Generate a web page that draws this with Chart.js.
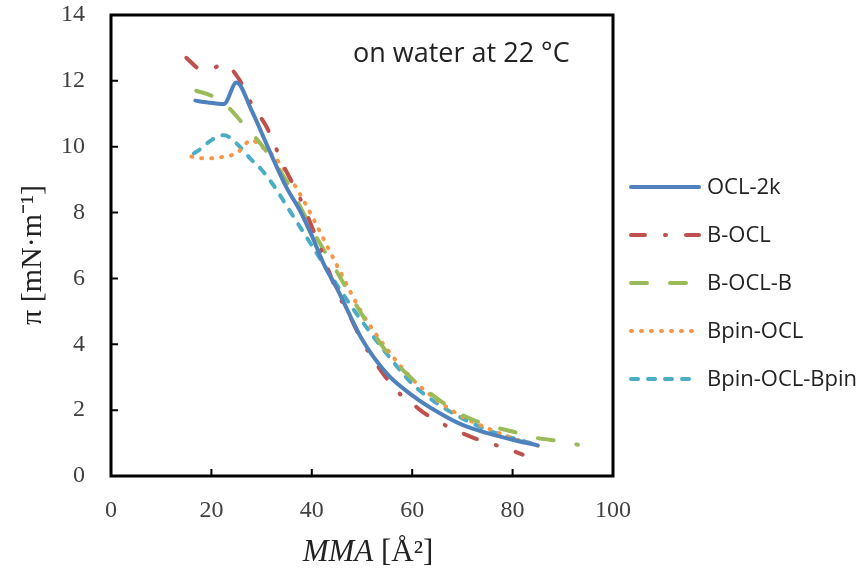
<!DOCTYPE html>
<html>
<head>
<meta charset="utf-8">
<script src="https://cdn.jsdelivr.net/npm/chart.js@4/dist/chart.umd.min.js"></script>
<style>
  html, body { margin: 0; padding: 0; background: #fff; }
  #wrap { width: 863px; height: 571px; position: relative; }
</style>
</head>
<body>
<div id="wrap"><canvas id="chart" width="863" height="571"></canvas></div>
<script>
"use strict";

// data (MMA in A^2, pressure in mN/m)
var ocl2kX = [16.8, 19, 22.5, 25, 28, 31.5, 35, 37.5, 40, 42.5, 45, 50, 55, 60, 65, 70, 75, 80, 85];
var ocl2kY = [11.4, 11.35, 11.3, 11.95, 11.1, 9.9, 8.75, 8.1, 7.3, 6.4, 5.7, 4.15, 3.1, 2.45, 1.95, 1.55, 1.3, 1.1, 0.93];

var boclX = [15, 18, 20.5, 22.5, 25.5, 28, 31, 34.3, 37.6, 41.6, 45, 47.6, 50, 54, 57.5, 60, 62.5, 66.5, 70, 74, 78.5, 82];
var boclY = [12.7, 12.35, 12.4, 12.5, 12.05, 11.3, 10.6, 9.45, 8.45, 6.96, 5.6, 4.85, 4.1, 3.15, 2.5, 2.2, 1.9, 1.55, 1.3, 1.06, 0.85, 0.65];

var boclbX = [17, 20, 23, 26, 30, 35, 40, 45, 50, 55, 60, 65, 70, 75, 80, 85, 90, 93];
var boclbY = [11.7, 11.55, 11.25, 10.75, 10.05, 8.95, 7.5, 6.2, 4.9, 3.75, 2.95, 2.35, 1.85, 1.55, 1.35, 1.15, 1.05, 0.95];

var bpinX = [16, 18, 20, 22.5, 25, 28, 30, 32.5, 35, 37.5, 40, 45, 50, 55, 60, 65, 70, 75, 80, 86];
var bpinY = [9.7, 9.65, 9.65, 9.7, 9.8, 10.2, 10.0, 9.7, 9.2, 8.6, 7.9, 6.4, 4.95, 3.85, 2.95, 2.3, 1.8, 1.45, 1.15, 0.88];

var bpin2X = [16.5, 18, 20, 22.5, 25, 28, 30, 32.5, 35, 37.5, 40, 45, 50, 55, 60, 65, 70, 75, 80, 85];
var bpin2Y = [9.8, 9.95, 10.2, 10.35, 10.1, 9.6, 9.3, 8.8, 8.2, 7.6, 7.0, 5.8, 4.7, 3.7, 2.8, 2.2, 1.75, 1.4, 1.15, 0.95];

var seriesNames = ["OCL-2k", "B-OCL", "B-OCL-B", "Bpin-OCL", "Bpin-OCL-Bpin"];
var seriesColors = ["#4F81BD", "#C0504D", "#9BBB59", "#F79646", "#4BACC6"];
var seriesDash = [[], [14, 20, 1, 20], [16, 23], [1, 9], [7, 10]];

var xTicks = [0, 20, 40, 60, 80, 100];
var yTicks = [0, 2, 4, 6, 8, 10, 12, 14];

var note = "on water at 22 \u00B0C";

function pairs(xs, ys) {
    var out = [];
    for (var i = 0; i < xs.length; i++) {
        out.push({x: xs[i], y: ys[i]});
    }
    return out;
}

var allX = [ocl2kX, boclX, boclbX, bpinX, bpin2X];
var allY = [ocl2kY, boclY, boclbY, bpinY, bpin2Y];

var datasets = [];
for (var i = 0; i < seriesNames.length; i++) {
    datasets.push({
        label: seriesNames[i],
        data: pairs(allX[i], allY[i]),
        borderColor: seriesColors[i],
        borderWidth: 4,
        borderDash: seriesDash[i],
        borderCapStyle: "round",
        pointRadius: 0,
        fill: false,
        cubicInterpolationMode: "monotone"
    });
}

// frame, inward ticks, axis titles, note and legend
var decor = {
    id: "decor",
    afterDraw: function (chart) {
        var ctx = chart.ctx, a = chart.chartArea;
        var xs = chart.scales.x, ys = chart.scales.y;
        ctx.save();
        ctx.strokeStyle = "#000";
        ctx.lineWidth = 3;
        ctx.strokeRect(a.left, a.top, a.right - a.left, a.bottom - a.top);
        ctx.lineWidth = 2;
        ctx.beginPath();
        xTicks.forEach(function (v) {
            var px = xs.getPixelForValue(v);
            ctx.moveTo(px, a.bottom);
            ctx.lineTo(px, a.bottom - 7);
        });
        yTicks.forEach(function (v) {
            var py = ys.getPixelForValue(v);
            ctx.moveTo(a.left, py);
            ctx.lineTo(a.left + 7, py);
        });
        ctx.stroke();

        // x title: italic MMA then [Å²]
        ctx.fillStyle = "#222";
        ctx.textBaseline = "alphabetic";
        var f1 = "italic 31px 'Liberation Serif'", f2 = "31px 'Liberation Serif'";
        ctx.font = f1;
        var w1 = ctx.measureText("MMA").width;
        ctx.font = f2;
        var w2 = ctx.measureText(" [\u00C5\u00B2]").width;
        var sx = 368 - (w1 + w2) / 2;
        ctx.font = f1;
        ctx.textAlign = "left";
        ctx.fillText("MMA", sx, 561);
        ctx.font = f2;
        ctx.fillText(" [\u00C5\u00B2]", sx + w1, 561);

        // y title
        ctx.save();
        ctx.translate(41, 255);
        ctx.rotate(-Math.PI / 2);
        ctx.textAlign = "center";
        ctx.font = "30px 'Liberation Serif'";
        ctx.fillText("\u03C0 [mN\u00B7m\u207B\u00B9]", 0, 0);
        ctx.restore();

        // note
        ctx.fillStyle = "#222";
        ctx.font = "27px 'Open Sans'";
        ctx.textAlign = "left";
        ctx.fillText(note, 353, 62);

        // legend
        ctx.font = "22px 'Open Sans'";
        ctx.textBaseline = "middle";
        for (var k = 0; k < seriesNames.length; k++) {
            var ly = 187 + k * 48;
            ctx.strokeStyle = seriesColors[k];
            ctx.lineWidth = 4;
            ctx.lineCap = "round";
            ctx.setLineDash(seriesDash[k]);
            ctx.beginPath();
            ctx.moveTo(631, ly);
            ctx.lineTo(699, ly);
            ctx.stroke();
            ctx.setLineDash([]);
            ctx.fillStyle = "#222";
            ctx.fillText(seriesNames[k], 707, ly + 1);
        }
        ctx.restore();
    }
};

var chart = new Chart(document.getElementById("chart").getContext("2d"), {
    type: "line",
    data: {datasets: datasets},
    options: {
        responsive: false,
        animation: false,
        layout: {padding: {left: 0, right: 250, top: 15, bottom: 0}},
        plugins: {legend: {display: false}, tooltip: {enabled: false}},
        scales: {
            x: {
                type: "linear",
                min: 0,
                max: 100,
                afterFit: function (s) { s.height = 95; s.paddingLeft = 0; s.paddingRight = 0; },
                afterBuildTicks: function (s) { s.ticks = xTicks.map(function (v) { return {value: v}; }); },
                grid: {display: false, drawTicks: false},
                border: {display: false},
                ticks: {padding: 20, color: "#404040", font: {family: "'Liberation Serif'", size: 24}}
            },
            y: {
                type: "linear",
                min: 0,
                max: 14,
                afterFit: function (s) { s.width = 111; s.paddingTop = 0; s.paddingBottom = 0; },
                afterBuildTicks: function (s) { s.ticks = yTicks.map(function (v) { return {value: v}; }); },
                grid: {display: false, drawTicks: false},
                border: {display: false},
                ticks: {padding: 26, color: "#404040", font: {family: "'Liberation Serif'", size: 24}}
            }
        }
    },
    plugins: [decor]
});
</script>
</body>
</html>
